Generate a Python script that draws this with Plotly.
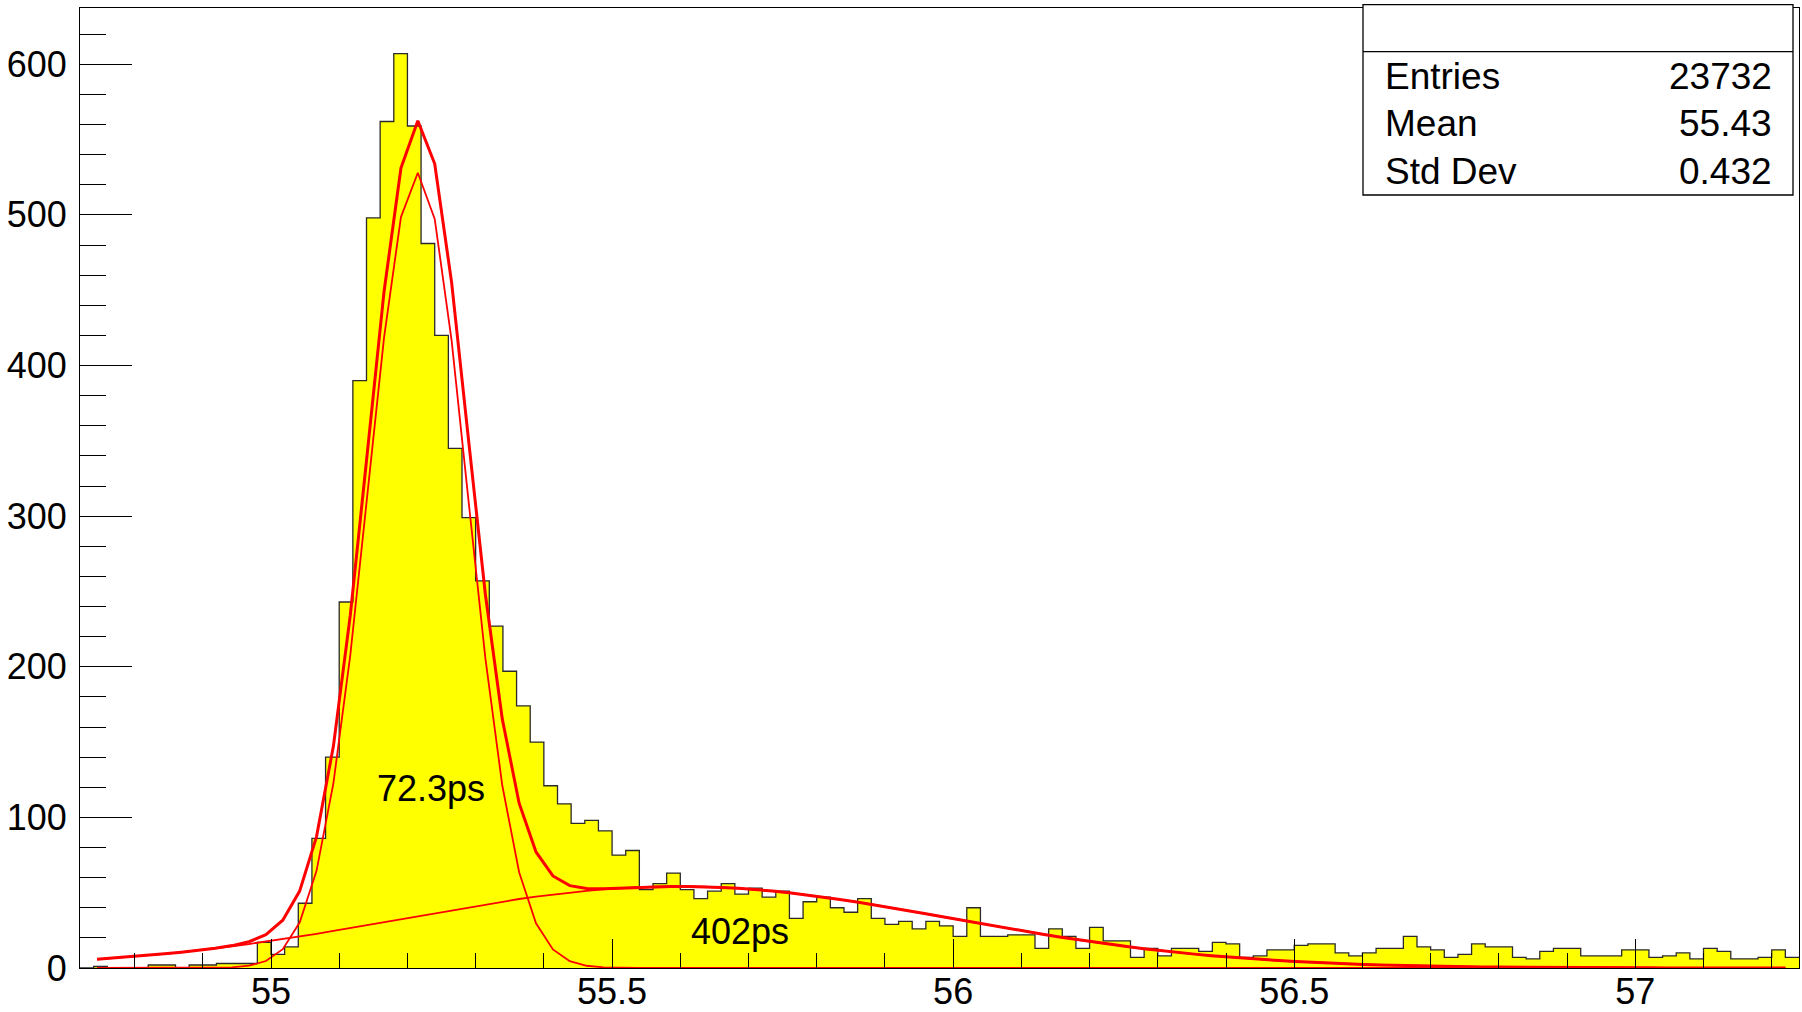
import numpy as np
import plotly.graph_objects as go

# ---- histogram: time distribution, 0.02 ns bins ----
x_min, x_max = 54.72, 57.24
bin_width = 0.02
counts = [
    0, 1, 0, 0, 0, 2, 2, 0, 2, 2,
    3, 3, 3, 17, 9, 14, 43, 86, 140, 243,
    390, 498, 562, 607, 559, 481, 420, 345, 299, 257,
    227, 197, 174, 150, 121, 109, 96, 98, 91, 75,
    78, 52, 56, 63, 52, 46, 51, 56, 49, 53,
    47, 51, 33, 44, 47, 40, 37, 46, 33, 29,
    31, 26, 31, 28, 21, 40, 21, 21, 22, 22,
    13, 26, 21, 13, 27, 18, 18, 7, 13, 8,
    13, 13, 11, 17, 16, 7, 8, 12, 12, 15,
    16, 16, 10, 8, 10, 13, 13, 21, 14, 12,
    7, 9, 16, 14, 14, 7, 6, 11, 13, 13,
    8, 8, 8, 12, 12, 7, 8, 10, 6, 13,
    11, 6, 6, 7, 12, 7,
]

# ---- double-Gaussian fit (sigmas in ns) ----
g1_amp, g1_mean, g1_sigma = 528.0, 55.215, 0.0723
g2_amp, g2_mean, g2_sigma = 54.2, 55.597, 0.402
fit_lo, fit_hi, fit_npx = 54.745, 57.22, 100

sigma_labels = ["72.3ps", "402ps"]
sigma_label_pos = [(55.234, 119.0), (55.688, 24.3)]

# ---- statistics box ----
stats_names = ["Entries", "Mean", "Std Dev"]
stats_values = ["23732", "55.43", "0.432"]

x_ticks = [55, 55.5, 56, 56.5, 57]
y_ticks = [0, 100, 200, 300, 400, 500, 600]

# ---- canvas geometry (pixels) ----
W, H = 1802, 1012
L, R, T, B = 80, 1799, 8, 968
y_top = 1.05 * max(counts)

edges = x_min + bin_width * np.arange(len(counts) + 1)
step_x = list(edges)
step_y = list(counts) + [counts[-1]]


def gauss(x, a, m, s):
    return a * np.exp(-0.5 * ((x - m) / s) ** 2)


xf = np.linspace(fit_lo, fit_hi, fit_npx + 1)
g1 = gauss(xf, g1_amp, g1_mean, g1_sigma)
g2 = gauss(xf, g2_amp, g2_mean, g2_sigma)
total = g1 + g2

fig = go.Figure()
fig.add_trace(go.Scatter(
    x=step_x, y=step_y, mode="lines",
    line=dict(shape="hv", color="#2a2a2a", width=1.3),
    fill="tozeroy", fillcolor="#ffff00", hoverinfo="skip",
))
fig.add_trace(go.Scatter(x=xf, y=g1, mode="lines",
                         line=dict(color="#ff0000", width=1.8)))
fig.add_trace(go.Scatter(x=xf, y=g2, mode="lines",
                         line=dict(color="#ff0000", width=1.8)))
fig.add_trace(go.Scatter(x=xf, y=total, mode="lines",
                         line=dict(color="#ff0000", width=3)))

font_family = "Liberation Sans, Arial, Helvetica, sans-serif"


def px_x(p):
    return (p - L) / (R - L)


def px_y(p):
    return (B - p) / (B - T)


annotations = []
for txt, (ax, ay) in zip(sigma_labels, sigma_label_pos):
    annotations.append(dict(
        x=ax, y=ay, xref="x", yref="y", text=txt, showarrow=False,
        font=dict(family=font_family, size=36, color="black"),
        xanchor="center", yanchor="middle",
    ))

box_l, box_r, box_t, box_b, box_div = 1363, 1793, 4.6, 195, 51.7
row_y = [76.7, 123.7, 171.7]
for name, val, ry in zip(stats_names, stats_values, row_y):
    annotations.append(dict(
        x=px_x(1383), y=px_y(ry), xref="paper", yref="paper", text=name,
        showarrow=False, xanchor="left", yanchor="middle",
        font=dict(family=font_family, size=37, color="black"),
    ))
    annotations.append(dict(
        x=px_x(1774), y=px_y(ry), xref="paper", yref="paper", text=val,
        showarrow=False, xanchor="right", yanchor="middle",
        font=dict(family=font_family, size=37, color="black"),
    ))

shapes = [
    dict(type="rect", xref="paper", yref="paper",
         x0=px_x(box_l), x1=px_x(box_r), y0=px_y(box_b), y1=px_y(box_t),
         line=dict(color="black", width=1.3), fillcolor="white", layer="above"),
    dict(type="line", xref="paper", yref="paper",
         x0=px_x(box_l), x1=px_x(box_r), y0=px_y(box_div), y1=px_y(box_div),
         line=dict(color="black", width=1.3), layer="above"),
]

fig.update_layout(
    width=W, height=H,
    margin=dict(l=L, r=W - R, t=T, b=H - B, pad=0, autoexpand=False),
    paper_bgcolor="white", plot_bgcolor="white",
    showlegend=False,
    annotations=annotations,
    shapes=shapes,
    font=dict(family=font_family, color="black"),
)

fig.update_xaxes(
    range=[x_min, x_max], showgrid=False, zeroline=False, automargin=False,
    showline=True, mirror=True, linecolor="black", linewidth=1,
    tickmode="array", tickvals=x_ticks, ticktext=[f"{v:g}" for v in x_ticks],
    ticks="inside", ticklen=29, tickcolor="black", tickwidth=1,
    minor=dict(tickmode="linear", tick0=55, dtick=0.1, ticks="inside",
               ticklen=15, tickcolor="black", tickwidth=1, showgrid=False),
    tickfont=dict(family=font_family, size=36, color="black"),
    ticklabelstandoff=-8,
)
fig.update_yaxes(
    range=[0, y_top], showgrid=False, zeroline=False, automargin=False,
    showline=True, mirror=True, linecolor="black", linewidth=1,
    tickmode="array", tickvals=y_ticks, ticktext=[str(v) for v in y_ticks],
    ticks="inside", ticklen=52, tickcolor="black", tickwidth=1,
    minor=dict(tickmode="linear", tick0=0, dtick=20, ticks="inside",
               ticklen=26, tickcolor="black", tickwidth=1, showgrid=False),
    tickfont=dict(family=font_family, size=36, color="black"),
    ticklabelstandoff=5,
)

fig.write_html("out.html")
